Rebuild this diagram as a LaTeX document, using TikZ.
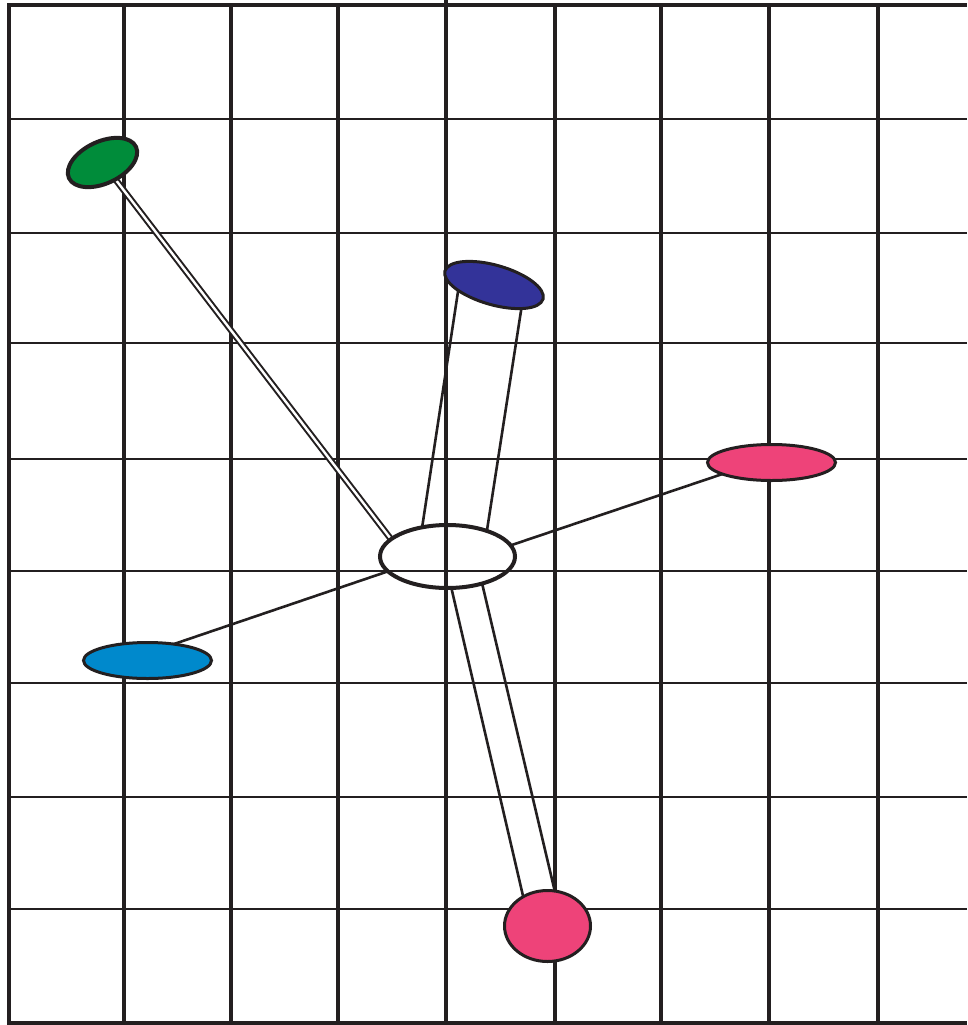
\documentclass[tikz,border=0pt]{standalone}
\usetikzlibrary{shapes.geometric}
\definecolor{ink}{HTML}{231F20}
\definecolor{leafgreen}{HTML}{008C3A}
\definecolor{navyblue}{HTML}{333399}
\definecolor{rosepink}{HTML}{EE4379}
\definecolor{skyblue}{HTML}{0089CC}
\pgfdeclarelayer{back}
\pgfsetlayers{back,main}
\begin{document}
\begin{tikzpicture}[x=1pt,y=-1pt,
  gridv/.style={draw=ink,line width=3.2pt},
  gridh/.style={draw=ink,line width=2.2pt},
  blob/.style={ellipse,draw=ink,line width=3pt,inner sep=0pt,outer sep=0pt},
  link/.style={draw=ink,line width=2.6pt},
  dlink/.style={draw=ink,line width=2pt,double=white,double distance=2.4pt}]
\useasboundingbox (0,0) rectangle (967,1025);
% nodes
\node[blob,line width=4pt,minimum width=135pt,minimum height=63pt] (c) at (447.5,556.5) {};
\node[blob,line width=4pt,fill=leafgreen,minimum width=74pt,minimum height=42pt,rotate=25] (g) at (102.5,162.5) {};
\node[blob,fill=navyblue,minimum width=102pt,minimum height=39.5pt,rotate=-16] (nv) at (494,285) {};
\node[blob,fill=rosepink,minimum width=128pt,minimum height=36pt] (rp) at (771.5,462.5) {};
\node[blob,fill=skyblue,minimum width=128pt,minimum height=36pt] (lb) at (147.5,660.5) {};
\node[blob,fill=rosepink,minimum width=86pt,minimum height=71pt] (bp) at (547.5,926) {};
\begin{pgfonlayer}{back}
\fill[white] (0,0) rectangle (967,1025);
% grid
\foreach \yy in {119,233,343,459,571,683,797,909} \draw[gridh] (9,\yy) -- (967,\yy);
\draw[gridv] (9,5) -- (967,5);
\draw[gridv] (9,1023) -- (967,1023);
\draw[gridv,line width=3.6pt] (9,3.4) -- (9,1024.6);
\foreach \xx in {124,231,338,555,661,769,878} \draw[gridv] (\xx,5) -- (\xx,1023);
\draw[gridv] (446,0) -- (446,1023);
% connectors
\draw[dlink] (g.center) -- (c.163.6);
\draw[link] ([xshift=-35pt]nv.center) -- (c.131.6);
\draw[link] ([xshift=31pt]nv.center) -- (c.33);
\draw[link] (c.10.1) -- ([yshift=5pt]rp.center);
\draw[link] (c.194.5) -- ([yshift=7.5pt]lb.center);
\draw[link] (c.277) -- ([xshift=-17.5pt]bp.center);
\draw[link] (c.322) -- ([xshift=15.5pt]bp.center);
\end{pgfonlayer}
\end{tikzpicture}
\end{document}
